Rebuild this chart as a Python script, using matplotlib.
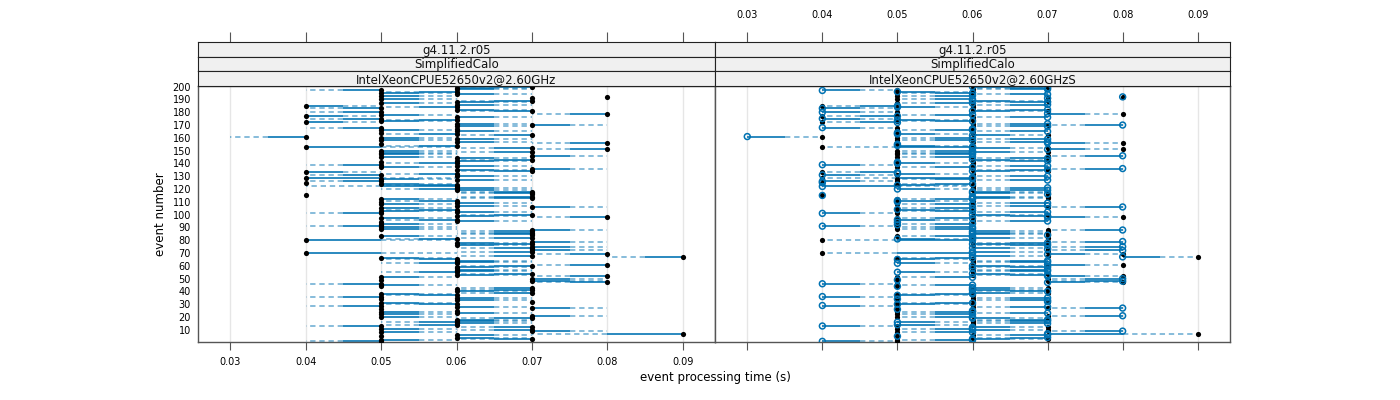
import numpy as np
import matplotlib
matplotlib.use("Agg")
import matplotlib.pyplot as plt
from matplotlib.collections import LineCollection

# =========================================================
# DATA  (event number 1..200, processing time in s)
# =========================================================

events = np.arange(1, 201)

# reference run (filled dots)
time_ref = [
    .05, .05, .07, .06, .05, .06, .09, .05, .07, .07,
    .05, .07, .05, .06, .06, .06, .06, .06, .07, .05,
    .07, .05, .06, .05, .06, .05, .07, .06, .05, .06,
    .05, .07, .06, .05, .06, .05, .06, .05, .07, .06,
    .07, .06, .07, .05, .05, .05, .08, .07, .05, .07,
    .05, .08, .06, .07, .06, .06, .06, .06, .06, .07,
    .08, .06, .06, .06, .06, .05, .09, .07, .08, .04,
    .07, .07, .07, .07, .07, .06, .07, .06, .07, .04,
    .06, .07, .05, .07, .07, .07, .07, .07, .05, .05,
    .05, .05, .05, .05, .06, .06, .05, .08, .06, .07,
    .05, .06, .05, .06, .05, .07, .06, .05, .06, .05,
    .06, .05, .07, .07, .04, .07, .07, .07, .06, .06,
    .06, .06, .06, .05, .04, .05, .06, .05, .04, .06,
    .05, .06, .04, .07, .06, .07, .05, .06, .05, .06,
    .05, .06, .07, .06, .05, .07, .05, .05, .07, .05,
    .08, .07, .04, .06, .05, .08, .06, .05, .06, .05,
    .04, .07, .06, .05, .06, .05, .06, .05, .06, .07,
    .06, .04, .05, .06, .05, .06, .04, .05, .08, .05,
    .07, .06, .05, .06, .04, .06, .05, .06, .07, .05,
    .07, .08, .05, .06, .05, .06, .05, .06, .06, .07,
]

# compared run "S" (open circles)
time_cmp = [
    .04, .06, .06, .07, .05, .07, .07, .06, .08, .06,
    .06, .06, .04, .05, .07, .05, .07, .07, .06, .06,
    .08, .06, .07, .06, .06, .05, .08, .07, .04, .05,
    .06, .07, .07, .05, .07, .04, .05, .06, .06, .07,
    .06, .06, .06, .05, .06, .04, .07, .08, .05, .08,
    .06, .07, .07, .06, .05, .07, .07, .06, .07, .06,
    .07, .05, .07, .07, .05, .06, .08, .06, .07, .06,
    .06, .08, .07, .06, .08, .07, .06, .07, .08, .06,
    .05, .06, .06, .07, .06, .06, .06, .08, .06, .06,
    .04, .05, .06, .05, .07, .05, .06, .07, .07, .06,
    .04, .07, .06, .05, .06, .08, .07, .06, .07, .05,
    .05, .06, .06, .06, .04, .07, .06, .06, .07, .05,
    .07, .04, .05, .06, .04, .04, .07, .06, .06, .07,
    .04, .05, .05, .06, .07, .08, .06, .07, .04, .05,
    .05, .07, .06, .07, .06, .08, .06, .06, .06, .06,
    .07, .06, .06, .05, .05, .07, .07, .06, .07, .06,
    .03, .06, .05, .05, .07, .06, .06, .04, .07, .08,
    .07, .05, .06, .05, .04, .07, .05, .06, .07, .04,
    .06, .07, .04, .05, .05, .07, .06, .07, .06, .06,
    .07, .08, .06, .07, .06, .05, .04, .07, .07, .06,
]

panel_strips = [
    ["g4.11.2.r05", "SimplifiedCalo", "IntelXeonCPUE52650v2@2.60GHz"],
    ["g4.11.2.r05", "SimplifiedCalo", "IntelXeonCPUE52650v2@2.60GHzS"],
]

x_ticks = [0.03, 0.04, 0.05, 0.06, 0.07, 0.08, 0.09]
y_ticks = list(range(10, 201, 10))

# =========================================================
# STYLE
# =========================================================

BLUE = "#0072B2"
FRAME = "#555555"
XLIM = (0.0257, 0.0943)
YLIM = (0.5, 200.5)

W, H = 1400, 400


def px_rect(x0, y0, x1, y1):
    return [x0 / W, 1 - y1 / H, (x1 - x0) / W, (y1 - y0) / H]


def draw_links(ax, x_from, x_to, y):
    # solid half next to the own point, dashed half towards the other run
    x_from = np.asarray(x_from)
    x_to = np.asarray(x_to)
    mid = (x_from + x_to) / 2
    solid = [[(a, e), (m, e)] for a, m, e in zip(x_from, mid, y)]
    dashed = [[(m, e), (b, e)] for m, b, e in zip(mid, x_to, y)]
    ax.add_collection(LineCollection(solid, colors=BLUE, linewidths=1.3,
                                     alpha=0.9, zorder=2))
    ax.add_collection(LineCollection(dashed, colors=BLUE, linewidths=1.1,
                                     alpha=0.6, linestyles=(0, (3.5, 2.5)),
                                     zorder=2))


def style_panel(ax):
    ax.set_xlim(*XLIM)
    ax.set_ylim(*YLIM)
    ax.set_xticks(x_ticks)
    for x in x_ticks:
        ax.axvline(x, color="#e6e6e6", lw=1, zorder=0)
    for s in ax.spines.values():
        s.set_color(FRAME)
        s.set_linewidth(1.0)
    ax.tick_params(axis="x", direction="out", length=6, width=0.8,
                   color=FRAME, labelsize=7, pad=5)
    ax.tick_params(axis="y", length=0, labelsize=7, pad=5)


fig = plt.figure(figsize=(14, 4), dpi=100)

panel_px = [(198, 715), (715, 1230)]
strip_rows = [(42, 56.7), (56.7, 71.3), (71.3, 86)]

axes = []
for p, (x0, x1) in enumerate(panel_px):
    ax = fig.add_axes(px_rect(x0, 86, x1, 342))
    style_panel(ax)
    axes.append(ax)

    # strips
    for k, (s0, s1) in enumerate(strip_rows):
        sax = fig.add_axes(px_rect(x0, s0, x1, s1))
        sax.set_facecolor("#f0f0f0")
        sax.set_xlim(*XLIM)
        sax.set_yticks([])
        for s in sax.spines.values():
            s.set_color("#222222")
            s.set_linewidth(0.8)
        sax.text(0.5, 0.45, panel_strips[p][k], transform=sax.transAxes,
                 ha="center", va="center", fontsize=8.5, color="#111111")
        if k == 0:
            sax.xaxis.tick_top()
            sax.set_xticks(x_ticks)
            sax.tick_params(axis="x", direction="out", length=7, width=0.8,
                            color=FRAME, labelsize=7, pad=9)
            if p == 0:
                sax.tick_params(axis="x", labeltop=False)
        else:
            sax.set_xticks([])

# left panel: reference run
ax = axes[0]
draw_links(ax, time_ref, time_cmp, events)
ax.scatter(time_ref, events, s=14, color="black", zorder=3, linewidths=0)
ax.set_yticks(y_ticks)

# right panel: compared run
ax = axes[1]
draw_links(ax, time_cmp, time_ref, events)
ax.scatter(time_ref, events, s=14, color="black", zorder=3, linewidths=0)
ax.scatter(time_cmp, events, s=18, facecolors="none", edgecolors=BLUE,
           linewidths=1.1, zorder=4)
ax.set_yticks([])
ax.tick_params(axis="x", labelbottom=False)

fig.text(160 / W, 1 - 214 / H, "event number", rotation=90,
         ha="center", va="center", fontsize=8.5)
fig.text(715 / W, 1 - 377 / H, "event processing time (s)",
         ha="center", va="center", fontsize=8.5)

fig.savefig("out.png", dpi=100)
